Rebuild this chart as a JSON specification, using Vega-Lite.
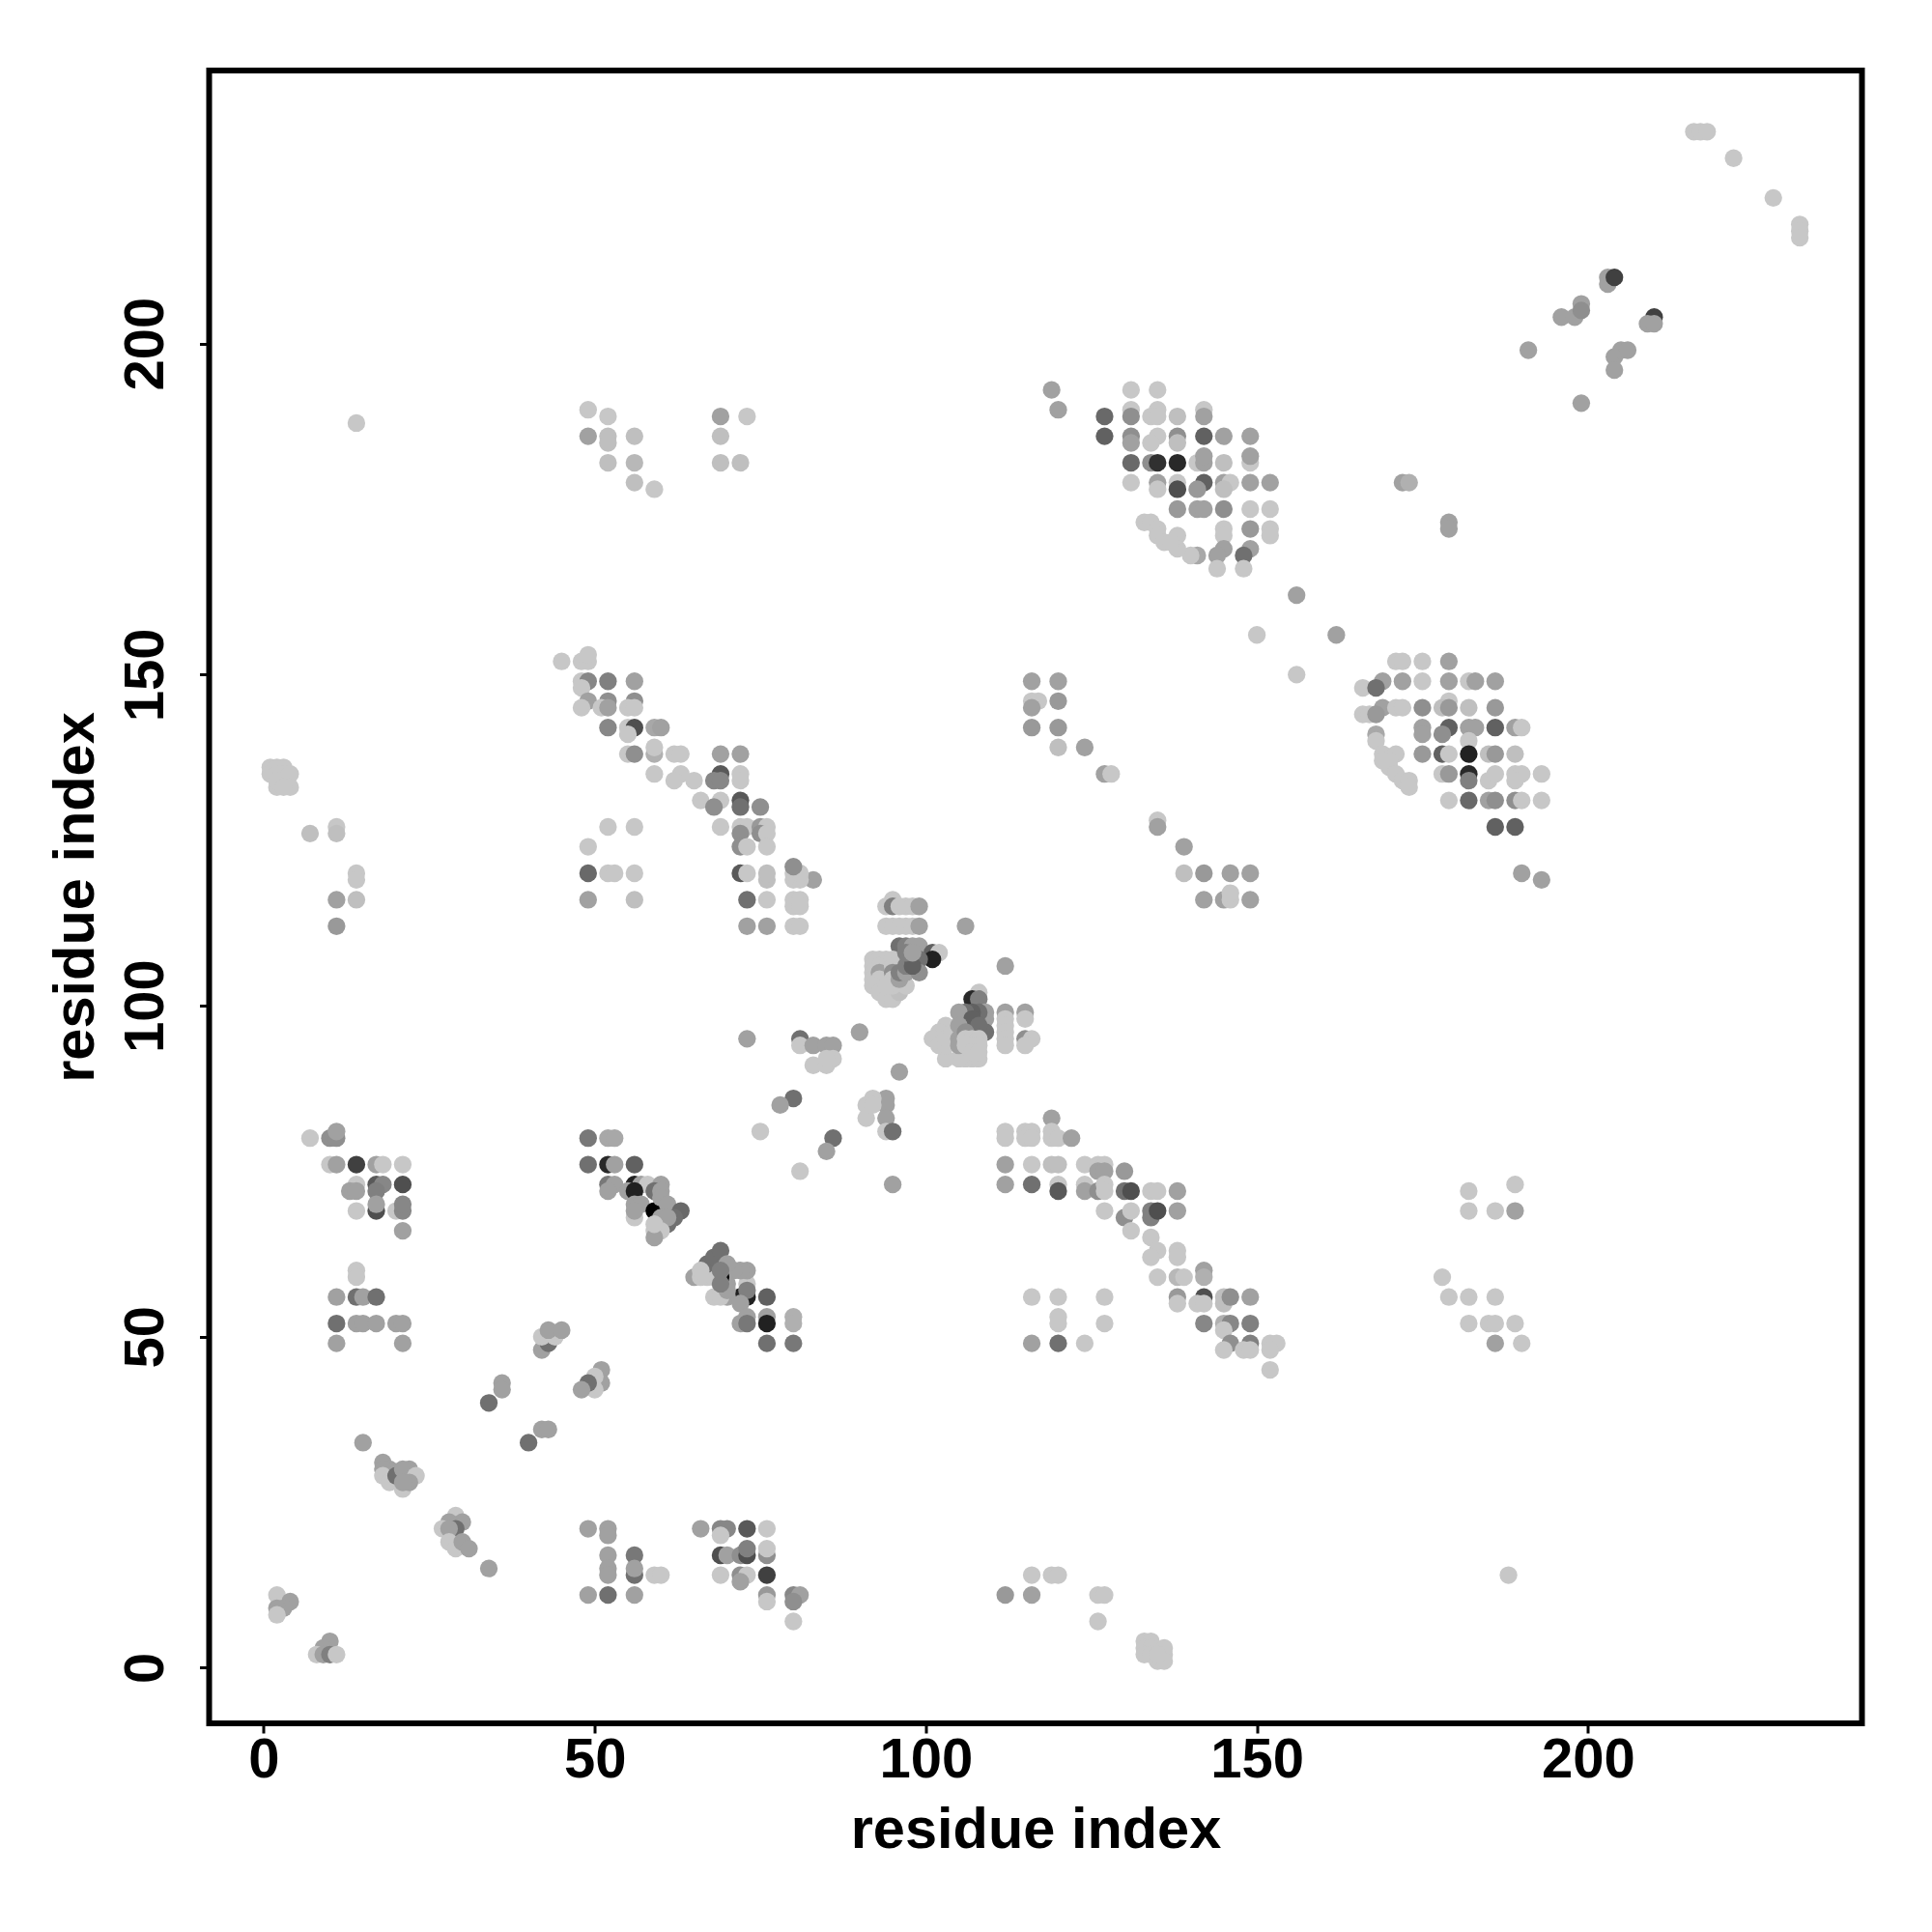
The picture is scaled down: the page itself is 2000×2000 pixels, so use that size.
{"$schema":"https://vega.github.io/schema/vega-lite/v6.json","autosize":"none","width":1711,"height":1711,"padding":{"left":216.5,"top":73,"right":72.5,"bottom":216},"background":"white","config":{"view":{"stroke":"black","strokeWidth":6},"font":"Liberation Sans"},
"data":{"values":[
{"x":11,"y":56,"w":37},{"x":14,"y":60,"w":22},{"x":14,"y":59,"w":22},{"x":14,"y":56,"w":56},{"x":15,"y":56,"w":37},{"x":17,"y":56,"w":56},{"x":11,"y":52,"w":56},{"x":14,"y":52,"w":37},{"x":15,"y":52,"w":37},{"x":17,"y":52,"w":37},{"x":20,"y":52,"w":37},{"x":21,"y":52,"w":37},{"x":11,"y":49,"w":37},{"x":21,"y":49,"w":37},
{"x":42,"y":48,"w":37},{"x":43,"y":49,"w":56},{"x":42,"y":50,"w":22},{"x":44,"y":50,"w":22},{"x":43,"y":51,"w":37},{"x":45,"y":51,"w":37},{"x":36,"y":43,"w":37},{"x":36,"y":42,"w":37},{"x":34,"y":40,"w":56},{"x":51,"y":45,"w":37},{"x":51,"y":43,"w":37},{"x":50,"y":44,"w":22},{"x":50,"y":42,"w":22},{"x":49,"y":43,"w":56},{"x":48,"y":42,"w":37},{"x":42,"y":36,"w":37},{"x":43,"y":36,"w":37},{"x":40,"y":34,"w":56},{"x":15,"y":34,"w":37},
{"x":18,"y":31,"w":37},{"x":19,"y":30,"w":37},{"x":18,"y":30,"w":37},{"x":18,"y":29,"w":22},{"x":19,"y":28,"w":22},{"x":21,"y":27,"w":22},{"x":20,"y":29,"w":56},{"x":22,"y":30,"w":37},{"x":21,"y":30,"w":37},{"x":23,"y":29,"w":22},{"x":22,"y":28,"w":37},{"x":21,"y":28,"w":37},
{"x":29,"y":23,"w":22},{"x":30,"y":22,"w":37},{"x":28,"y":22,"w":37},{"x":27,"y":21,"w":22},{"x":29,"y":21,"w":56},{"x":28,"y":21,"w":37},{"x":28,"y":19,"w":22},{"x":29,"y":18,"w":22},{"x":30,"y":19,"w":37},{"x":31,"y":18,"w":37},{"x":34,"y":15,"w":37},
{"x":49,"y":21,"w":37},{"x":52,"y":21,"w":37},{"x":52,"y":20,"w":37},{"x":52,"y":17,"w":37},{"x":52,"y":15,"w":37},{"x":52,"y":14,"w":37},{"x":56,"y":17,"w":53},{"x":56,"y":14,"w":56},{"x":56,"y":15,"w":37},{"x":59,"y":14,"w":22},{"x":60,"y":14,"w":22},{"x":49,"y":11,"w":37},{"x":52,"y":11,"w":56},{"x":56,"y":11,"w":37},
{"x":2,"y":11,"w":22},{"x":4,"y":10,"w":37},{"x":3,"y":9,"w":37},{"x":2,"y":9,"w":37},{"x":2,"y":8,"w":22},{"x":10,"y":4,"w":37},{"x":9,"y":3,"w":37},{"x":8,"y":2,"w":22},{"x":9,"y":2,"w":37},{"x":10,"y":2,"w":50},{"x":11,"y":2,"w":22},
{"x":76,"y":56,"w":62},{"x":73,"y":56,"w":87},{"x":72,"y":56,"w":87},{"x":73,"y":58,"w":22},{"x":73,"y":60,"w":37},{"x":72,"y":60,"w":37},{"x":71,"y":60,"w":37},{"x":70,"y":56,"w":37},{"x":68,"y":56,"w":22},{"x":69,"y":56,"w":22},{"x":73,"y":57,"w":50},{"x":70,"y":58,"w":37},{"x":70,"y":57,"w":37},{"x":69,"y":59,"w":100},{"x":65,"y":59,"w":37},{"x":66,"y":59,"w":22},{"x":67,"y":59,"w":22},{"x":68,"y":59,"w":22},{"x":67,"y":61,"w":56},{"x":68,"y":62,"w":56},{"x":69,"y":63,"w":56},{"x":70,"y":61,"w":37},{"x":66,"y":60,"w":22},{"x":69,"y":60,"w":50},{"x":69,"y":58,"w":50},{"x":72,"y":55,"w":37},
{"x":80,"y":53,"w":31},{"x":76,"y":53,"w":37},{"x":73,"y":53,"w":37},{"x":72,"y":52,"w":37},{"x":73,"y":52,"w":53},{"x":76,"y":52,"w":87},{"x":80,"y":52,"w":31},{"x":76,"y":49,"w":56},{"x":80,"y":49,"w":53},
{"x":116,"y":56,"w":22},{"x":120,"y":56,"w":22},{"x":127,"y":56,"w":22},{"x":120,"y":53,"w":22},{"x":120,"y":52,"w":22},{"x":127,"y":52,"w":22},{"x":116,"y":49,"w":37},{"x":120,"y":49,"w":56},{"x":124,"y":49,"w":22},
{"x":66,"y":21,"w":37},{"x":69,"y":21,"w":47},{"x":70,"y":21,"w":47},{"x":73,"y":21,"w":65},{"x":76,"y":21,"w":22},{"x":69,"y":20,"w":22},{"x":69,"y":17,"w":69},{"x":70,"y":17,"w":37},{"x":72,"y":17,"w":44},{"x":73,"y":17,"w":69},{"x":76,"y":17,"w":44},{"x":73,"y":18,"w":50},{"x":76,"y":18,"w":22},{"x":69,"y":14,"w":22},{"x":72,"y":14,"w":44},{"x":73,"y":14,"w":22},{"x":76,"y":14,"w":75},{"x":72,"y":13,"w":37},{"x":76,"y":11,"w":40},{"x":80,"y":11,"w":47},{"x":81,"y":11,"w":37},{"x":76,"y":10,"w":22},{"x":80,"y":10,"w":44},{"x":80,"y":7,"w":22},
{"x":116,"y":14,"w":22},{"x":119,"y":14,"w":22},{"x":120,"y":14,"w":22},{"x":112,"y":11,"w":40},{"x":116,"y":11,"w":37},{"x":126,"y":11,"w":22},{"x":127,"y":11,"w":22},{"x":126,"y":7,"w":22},{"x":188,"y":14,"w":22},
{"x":133,"y":4,"w":22},{"x":134,"y":4,"w":22},{"x":133,"y":3,"w":22},{"x":134,"y":3,"w":22},{"x":133,"y":2,"w":22},{"x":134,"y":2,"w":22},{"x":136,"y":3,"w":22},{"x":136,"y":2,"w":22},{"x":135,"y":1,"w":22},{"x":136,"y":1,"w":22},{"x":135,"y":2,"w":22},
{"x":73,"y":116,"w":56},{"x":76,"y":116,"w":22},{"x":80,"y":116,"w":22},{"x":81,"y":116,"w":22},{"x":80,"y":115,"w":22},{"x":81,"y":115,"w":22},{"x":73,"y":112,"w":37},{"x":76,"y":112,"w":37},{"x":80,"y":112,"w":22},{"x":81,"y":112,"w":22},{"x":83,"y":119,"w":37},{"x":80,"y":119,"w":22},{"x":81,"y":119,"w":22},{"x":80,"y":120,"w":22},{"x":81,"y":120,"w":22},{"x":76,"y":119,"w":25},{"x":76,"y":120,"w":25},
{"x":95,"y":116,"w":22},{"x":94,"y":115,"w":22},{"x":95,"y":115,"w":50},{"x":96,"y":115,"w":22},{"x":97,"y":115,"w":22},{"x":98,"y":115,"w":22},{"x":99,"y":115,"w":37},{"x":94,"y":112,"w":22},{"x":95,"y":112,"w":22},{"x":96,"y":112,"w":22},{"x":97,"y":112,"w":22},{"x":98,"y":112,"w":22},{"x":99,"y":112,"w":37},{"x":106,"y":112,"w":37},{"x":96,"y":109,"w":56},{"x":97,"y":109,"w":50},{"x":98,"y":109,"w":37},{"x":99,"y":109,"w":37},{"x":101,"y":108,"w":62},{"x":102,"y":108,"w":22},{"x":101,"y":107,"w":87},
{"x":92,"y":107,"w":22},{"x":92,"y":106,"w":22},{"x":92,"y":105,"w":22},{"x":92,"y":104,"w":22},{"x":94,"y":107,"w":22},{"x":94,"y":106,"w":22},{"x":94,"y":105,"w":31},{"x":94,"y":104,"w":22},{"x":93,"y":107,"w":22},{"x":93,"y":106,"w":22},{"x":93,"y":105,"w":37},{"x":93,"y":104,"w":22},{"x":95,"y":107,"w":22},{"x":95,"y":106,"w":22},{"x":95,"y":105,"w":44},{"x":95,"y":104,"w":22},{"x":92,"y":103,"w":22},{"x":93,"y":102,"w":22},{"x":94,"y":101,"w":22},{"x":95,"y":101,"w":22},{"x":96,"y":102,"w":25},{"x":97,"y":103,"w":22},{"x":95,"y":103,"w":22},{"x":94,"y":103,"w":22},{"x":96,"y":104,"w":37},{"x":96,"y":105,"w":50},{"x":97,"y":105,"w":37},{"x":97,"y":106,"w":50},{"x":98,"y":107,"w":56},{"x":99,"y":107,"w":56},{"x":99,"y":105,"w":44},{"x":98,"y":106,"w":62},{"x":97,"y":108,"w":50},{"x":98,"y":108,"w":37},
{"x":108,"y":102,"w":22},{"x":107,"y":101,"w":84},{"x":108,"y":101,"w":50},{"x":109,"y":99,"w":37},{"x":109,"y":98,"w":37},{"x":109,"y":96,"w":56},{"x":108,"y":99,"w":56},{"x":107,"y":99,"w":62},{"x":106,"y":99,"w":56},{"x":105,"y":99,"w":37},{"x":107,"y":98,"w":62},{"x":108,"y":97,"w":56},{"x":112,"y":99,"w":37},{"x":112,"y":98,"w":22},{"x":112,"y":97,"w":22},{"x":112,"y":96,"w":22},{"x":112,"y":95,"w":22},{"x":112,"y":94,"w":22},{"x":115,"y":99,"w":37},{"x":115,"y":98,"w":22},{"x":115,"y":95,"w":44},{"x":116,"y":95,"w":22},{"x":115,"y":94,"w":22},
{"x":107,"y":92,"w":22},{"x":108,"y":92,"w":22},{"x":106,"y":92,"w":22},{"x":105,"y":92,"w":22},{"x":103,"y":92,"w":22},{"x":103,"y":97,"w":22},{"x":102,"y":96,"w":22},{"x":101,"y":95,"w":22},{"x":102,"y":94,"w":22},{"x":103,"y":94,"w":22},{"x":103,"y":95,"w":22},{"x":104,"y":96,"w":22},{"x":105,"y":97,"w":37},{"x":105,"y":95,"w":37},{"x":105,"y":94,"w":37},{"x":106,"y":96,"w":44},{"x":106,"y":95,"w":22},{"x":107,"y":95,"w":22},{"x":108,"y":95,"w":22},{"x":107,"y":94,"w":22},{"x":108,"y":94,"w":22},{"x":106,"y":94,"w":22},{"x":107,"y":93,"w":22},{"x":108,"y":93,"w":22},
{"x":73,"y":95,"w":37},{"x":81,"y":95,"w":56},{"x":81,"y":94,"w":22},{"x":83,"y":94,"w":37},{"x":85,"y":94,"w":37},{"x":86,"y":94,"w":37},{"x":86,"y":92,"w":22},{"x":83,"y":91,"w":22},{"x":85,"y":91,"w":22},{"x":85,"y":92,"w":22},{"x":90,"y":96,"w":37},{"x":112,"y":106,"w":37},{"x":96,"y":90,"w":37},{"x":80,"y":86,"w":56},{"x":78,"y":85,"w":37},{"x":75,"y":81,"w":22},{"x":86,"y":80,"w":56},{"x":85,"y":78,"w":37},{"x":81,"y":75,"w":22},{"x":94,"y":86,"w":37},{"x":94,"y":85,"w":37},{"x":92,"y":86,"w":22},{"x":91,"y":85,"w":22},{"x":91,"y":83,"w":22},{"x":92,"y":85,"w":22},{"x":94,"y":83,"w":37},{"x":94,"y":81,"w":22},{"x":95,"y":81,"w":56},{"x":95,"y":73,"w":37},
{"x":119,"y":83,"w":37},{"x":112,"y":81,"w":22},{"x":112,"y":80,"w":22},{"x":115,"y":81,"w":22},{"x":116,"y":81,"w":22},{"x":115,"y":80,"w":22},{"x":116,"y":80,"w":22},{"x":119,"y":81,"w":22},{"x":119,"y":80,"w":22},{"x":120,"y":80,"w":22},{"x":122,"y":80,"w":37},
{"x":112,"y":76,"w":37},{"x":116,"y":76,"w":22},{"x":119,"y":76,"w":25},{"x":120,"y":76,"w":25},{"x":124,"y":76,"w":22},{"x":126,"y":76,"w":22},{"x":127,"y":76,"w":22},{"x":126,"y":75,"w":37},{"x":127,"y":75,"w":37},{"x":130,"y":75,"w":40},
{"x":112,"y":73,"w":37},{"x":116,"y":73,"w":56},{"x":120,"y":73,"w":22},{"x":120,"y":72,"w":65},{"x":124,"y":73,"w":22},{"x":124,"y":72,"w":37},{"x":126,"y":72,"w":44},{"x":127,"y":73,"w":22},{"x":127,"y":72,"w":22},{"x":130,"y":72,"w":56},{"x":131,"y":72,"w":69},{"x":134,"y":72,"w":22},{"x":135,"y":72,"w":22},{"x":138,"y":72,"w":37},
{"x":127,"y":69,"w":22},{"x":130,"y":68,"w":44},{"x":131,"y":69,"w":22},{"x":134,"y":69,"w":50},{"x":134,"y":68,"w":50},{"x":135,"y":69,"w":69},{"x":138,"y":69,"w":37},{"x":131,"y":66,"w":22},{"x":134,"y":65,"w":22},{"x":135,"y":63,"w":22},{"x":134,"y":62,"w":22},{"x":138,"y":63,"w":22},{"x":138,"y":62,"w":22},{"x":135,"y":59,"w":22},{"x":138,"y":59,"w":28},{"x":139,"y":59,"w":22},{"x":142,"y":60,"w":37},{"x":142,"y":59,"w":31},
{"x":138,"y":56,"w":40},{"x":138,"y":55,"w":22},{"x":142,"y":56,"w":69},{"x":141,"y":55,"w":22},{"x":142,"y":55,"w":22},{"x":145,"y":56,"w":25},{"x":145,"y":55,"w":25},{"x":146,"y":56,"w":44},{"x":149,"y":56,"w":37},{"x":142,"y":52,"w":47},{"x":145,"y":52,"w":31},{"x":146,"y":52,"w":47},{"x":149,"y":52,"w":50},{"x":145,"y":51,"w":22},{"x":146,"y":49,"w":44},{"x":149,"y":49,"w":50},{"x":145,"y":48,"w":22},{"x":148,"y":48,"w":22},{"x":149,"y":48,"w":22},{"x":152,"y":49,"w":22},{"x":153,"y":49,"w":22},{"x":152,"y":48,"w":22},{"x":152,"y":45,"w":22},
{"x":7,"y":80,"w":22},{"x":10,"y":80,"w":44},{"x":11,"y":80,"w":44},{"x":11,"y":81,"w":37},{"x":10,"y":76,"w":22},{"x":11,"y":76,"w":37},{"x":14,"y":76,"w":75},{"x":17,"y":76,"w":37},{"x":18,"y":76,"w":22},{"x":21,"y":76,"w":22},{"x":14,"y":73,"w":22},{"x":17,"y":73,"w":65},{"x":18,"y":73,"w":47},{"x":21,"y":73,"w":69},{"x":13,"y":72,"w":37},{"x":14,"y":72,"w":37},{"x":17,"y":72,"w":50},{"x":14,"y":69,"w":22},{"x":17,"y":69,"w":69},{"x":17,"y":70,"w":37},{"x":20,"y":69,"w":22},{"x":21,"y":69,"w":47},{"x":21,"y":70,"w":47},{"x":21,"y":66,"w":37},
{"x":49,"y":80,"w":53},{"x":52,"y":80,"w":34},{"x":53,"y":80,"w":34},{"x":49,"y":76,"w":56},{"x":52,"y":76,"w":84},{"x":53,"y":76,"w":37},{"x":56,"y":76,"w":62},{"x":52,"y":73,"w":53},{"x":53,"y":73,"w":37},{"x":56,"y":73,"w":87},{"x":57,"y":73,"w":37},{"x":58,"y":73,"w":22},{"x":60,"y":73,"w":37},{"x":52,"y":72,"w":37},{"x":55,"y":72,"w":37},{"x":56,"y":72,"w":87},{"x":59,"y":72,"w":56},{"x":60,"y":72,"w":37},{"x":56,"y":70,"w":37},{"x":57,"y":70,"w":37},{"x":56,"y":68,"w":22},{"x":56,"y":69,"w":37},{"x":59,"y":69,"w":100},{"x":60,"y":71,"w":37},{"x":61,"y":70,"w":37},{"x":63,"y":69,"w":59},{"x":62,"y":68,"w":56},{"x":61,"y":67,"w":56},{"x":60,"y":68,"w":37},{"x":61,"y":68,"w":37},{"x":59,"y":66,"w":22},{"x":60,"y":66,"w":22},{"x":59,"y":65,"w":37},{"x":59,"y":67,"w":22},
{"x":45,"y":152,"w":22},{"x":48,"y":152,"w":22},{"x":49,"y":152,"w":22},{"x":49,"y":153,"w":22},{"x":48,"y":149,"w":22},{"x":49,"y":149,"w":47},{"x":52,"y":149,"w":50},{"x":56,"y":149,"w":37},{"x":48,"y":148,"w":22},{"x":49,"y":146,"w":37},{"x":52,"y":146,"w":44},{"x":56,"y":146,"w":44},{"x":48,"y":145,"w":22},{"x":51,"y":145,"w":22},{"x":52,"y":145,"w":37},{"x":55,"y":145,"w":22},{"x":56,"y":145,"w":22},{"x":52,"y":142,"w":47},{"x":55,"y":142,"w":22},{"x":56,"y":142,"w":69},{"x":59,"y":142,"w":34},{"x":60,"y":142,"w":37},{"x":55,"y":141,"w":22},
{"x":55,"y":138,"w":22},{"x":56,"y":138,"w":44},{"x":59,"y":138,"w":31},{"x":62,"y":138,"w":22},{"x":63,"y":138,"w":22},{"x":69,"y":138,"w":37},{"x":72,"y":138,"w":37},{"x":59,"y":139,"w":22},{"x":59,"y":135,"w":22},{"x":63,"y":135,"w":22},{"x":69,"y":135,"w":65},{"x":72,"y":135,"w":22},{"x":62,"y":134,"w":22},{"x":65,"y":134,"w":22},{"x":68,"y":134,"w":47},{"x":69,"y":134,"w":47},{"x":72,"y":134,"w":22},{"x":66,"y":131,"w":22},{"x":69,"y":131,"w":22},{"x":72,"y":131,"w":65},{"x":68,"y":130,"w":44},{"x":72,"y":130,"w":56},{"x":75,"y":130,"w":44},
{"x":69,"y":127,"w":22},{"x":72,"y":127,"w":22},{"x":73,"y":127,"w":22},{"x":75,"y":127,"w":40},{"x":76,"y":127,"w":22},{"x":72,"y":126,"w":44},{"x":75,"y":126,"w":44},{"x":76,"y":126,"w":22},{"x":49,"y":124,"w":22},{"x":72,"y":124,"w":44},{"x":73,"y":124,"w":22},{"x":76,"y":124,"w":22},{"x":52,"y":127,"w":22},{"x":56,"y":127,"w":22},{"x":80,"y":121,"w":44},{"x":49,"y":120,"w":59},{"x":52,"y":120,"w":22},{"x":53,"y":120,"w":22},{"x":56,"y":120,"w":22},{"x":72,"y":120,"w":65},{"x":73,"y":120,"w":22},{"x":49,"y":116,"w":37},{"x":56,"y":116,"w":25},
{"x":171,"y":152,"w":22},{"x":172,"y":152,"w":22},{"x":175,"y":152,"w":22},{"x":179,"y":152,"w":37},{"x":169,"y":149,"w":37},{"x":172,"y":149,"w":37},{"x":175,"y":149,"w":22},{"x":179,"y":149,"w":37},{"x":182,"y":149,"w":22},{"x":183,"y":149,"w":37},{"x":186,"y":149,"w":37},{"x":166,"y":148,"w":22},{"x":168,"y":148,"w":56},{"x":179,"y":146,"w":22},{"x":169,"y":145,"w":37},{"x":171,"y":145,"w":22},{"x":172,"y":145,"w":22},{"x":175,"y":145,"w":44},{"x":178,"y":145,"w":25},{"x":179,"y":145,"w":40},{"x":182,"y":145,"w":25},{"x":186,"y":145,"w":40},{"x":166,"y":144,"w":22},{"x":167,"y":144,"w":22},{"x":168,"y":144,"w":40},
{"x":175,"y":142,"w":37},{"x":179,"y":142,"w":62},{"x":182,"y":142,"w":37},{"x":183,"y":142,"w":37},{"x":186,"y":142,"w":62},{"x":189,"y":142,"w":37},{"x":190,"y":142,"w":22},{"x":168,"y":141,"w":34},{"x":175,"y":141,"w":37},{"x":178,"y":141,"w":44},{"x":182,"y":140,"w":22},{"x":168,"y":140,"w":22},{"x":169,"y":138,"w":22},{"x":171,"y":138,"w":22},{"x":175,"y":138,"w":40},{"x":178,"y":138,"w":62},{"x":179,"y":138,"w":22},{"x":182,"y":138,"w":87},{"x":185,"y":138,"w":25},{"x":186,"y":138,"w":40},{"x":189,"y":138,"w":25},
{"x":178,"y":135,"w":22},{"x":179,"y":135,"w":40},{"x":182,"y":135,"w":84},{"x":182,"y":134,"w":50},{"x":185,"y":134,"w":22},{"x":186,"y":135,"w":22},{"x":189,"y":135,"w":22},{"x":190,"y":135,"w":22},{"x":189,"y":134,"w":22},{"x":193,"y":135,"w":22},{"x":170,"y":137,"w":22},{"x":170,"y":136,"w":22},{"x":169,"y":137,"w":22},{"x":171,"y":135,"w":22},{"x":172,"y":134,"w":22},{"x":173,"y":134,"w":22},{"x":173,"y":133,"w":22},{"x":179,"y":131,"w":22},{"x":182,"y":131,"w":59},{"x":185,"y":131,"w":37},{"x":186,"y":131,"w":44},{"x":189,"y":131,"w":44},{"x":190,"y":131,"w":22},{"x":193,"y":131,"w":22},{"x":186,"y":127,"w":62},{"x":189,"y":127,"w":62},{"x":190,"y":120,"w":37},{"x":193,"y":119,"w":37},
{"x":131,"y":193,"w":22},{"x":135,"y":193,"w":22},{"x":131,"y":190,"w":22},{"x":135,"y":190,"w":22},{"x":142,"y":190,"w":22},{"x":127,"y":189,"w":59},{"x":131,"y":189,"w":44},{"x":134,"y":189,"w":22},{"x":135,"y":189,"w":22},{"x":138,"y":189,"w":25},{"x":142,"y":189,"w":37},{"x":127,"y":186,"w":62},{"x":131,"y":186,"w":44},{"x":135,"y":186,"w":22},{"x":138,"y":186,"w":44},{"x":142,"y":186,"w":62},{"x":145,"y":186,"w":37},{"x":149,"y":186,"w":37},{"x":131,"y":185,"w":37},{"x":134,"y":185,"w":22},{"x":138,"y":185,"w":25},
{"x":131,"y":182,"w":59},{"x":134,"y":182,"w":44},{"x":135,"y":182,"w":81},{"x":138,"y":182,"w":84},{"x":141,"y":182,"w":22},{"x":142,"y":182,"w":37},{"x":145,"y":182,"w":25},{"x":149,"y":182,"w":22},{"x":142,"y":183,"w":37},{"x":149,"y":183,"w":37},{"x":131,"y":179,"w":22},{"x":135,"y":179,"w":37},{"x":138,"y":179,"w":22},{"x":142,"y":179,"w":62},{"x":145,"y":179,"w":37},{"x":146,"y":179,"w":22},{"x":149,"y":179,"w":37},{"x":152,"y":179,"w":37},{"x":135,"y":178,"w":22},{"x":138,"y":178,"w":69},{"x":141,"y":178,"w":40},{"x":145,"y":178,"w":25},
{"x":138,"y":175,"w":40},{"x":141,"y":175,"w":37},{"x":142,"y":175,"w":37},{"x":145,"y":175,"w":44},{"x":149,"y":175,"w":22},{"x":152,"y":175,"w":22},{"x":145,"y":172,"w":22},{"x":149,"y":172,"w":40},{"x":152,"y":172,"w":22},{"x":145,"y":171,"w":22},{"x":152,"y":171,"w":22},{"x":145,"y":169,"w":37},{"x":149,"y":169,"w":37},{"x":144,"y":168,"w":37},{"x":141,"y":168,"w":34},{"x":140,"y":168,"w":22},{"x":148,"y":168,"w":56},{"x":144,"y":166,"w":22},{"x":148,"y":166,"w":22},{"x":133,"y":173,"w":22},{"x":134,"y":173,"w":22},{"x":135,"y":172,"w":22},{"x":135,"y":171,"w":22},{"x":136,"y":170,"w":22},{"x":138,"y":171,"w":22},{"x":138,"y":169,"w":22},{"x":137,"y":170,"w":22},{"x":156,"y":162,"w":37},
{"x":116,"y":149,"w":37},{"x":120,"y":149,"w":37},{"x":116,"y":146,"w":22},{"x":117,"y":146,"w":22},{"x":120,"y":146,"w":40},{"x":116,"y":145,"w":37},{"x":116,"y":142,"w":40},{"x":120,"y":142,"w":40},{"x":120,"y":139,"w":25},{"x":124,"y":139,"w":37},{"x":127,"y":135,"w":37},{"x":128,"y":135,"w":22},{"x":135,"y":128,"w":22},{"x":135,"y":127,"w":37},{"x":139,"y":124,"w":37},{"x":139,"y":120,"w":25},{"x":142,"y":120,"w":40},{"x":146,"y":120,"w":37},{"x":149,"y":120,"w":37},{"x":142,"y":116,"w":37},{"x":145,"y":116,"w":37},{"x":146,"y":116,"w":22},{"x":149,"y":116,"w":37},{"x":146,"y":117,"w":22},
{"x":49,"y":190,"w":22},{"x":52,"y":189,"w":22},{"x":49,"y":186,"w":37},{"x":52,"y":186,"w":25},{"x":52,"y":185,"w":25},{"x":56,"y":186,"w":25},{"x":52,"y":182,"w":25},{"x":56,"y":182,"w":28},{"x":56,"y":179,"w":25},{"x":59,"y":178,"w":22},{"x":69,"y":189,"w":37},{"x":73,"y":189,"w":22},{"x":69,"y":186,"w":25},{"x":69,"y":182,"w":25},{"x":72,"y":182,"w":25},
{"x":1,"y":136,"w":22},{"x":1,"y":135,"w":22},{"x":2,"y":136,"w":22},{"x":3,"y":136,"w":22},{"x":2,"y":133,"w":22},{"x":3,"y":135,"w":22},{"x":2,"y":135,"w":22},{"x":2,"y":134,"w":22},{"x":4,"y":135,"w":22},{"x":4,"y":133,"w":22},{"x":3,"y":133,"w":22},{"x":7,"y":126,"w":25},{"x":11,"y":127,"w":22},{"x":11,"y":126,"w":25},{"x":14,"y":120,"w":22},{"x":14,"y":119,"w":22},{"x":11,"y":116,"w":37},{"x":14,"y":116,"w":25},{"x":11,"y":112,"w":40},{"x":14,"y":188,"w":22},
{"x":216,"y":232,"w":22},{"x":217,"y":232,"w":22},{"x":218,"y":232,"w":22},{"x":222,"y":228,"w":22},{"x":228,"y":222,"w":22},{"x":232,"y":218,"w":22},{"x":232,"y":217,"w":22},{"x":232,"y":216,"w":22},
{"x":203,"y":210,"w":37},{"x":203,"y":209,"w":37},{"x":204,"y":210,"w":75},{"x":210,"y":204,"w":75},{"x":209,"y":203,"w":37},{"x":210,"y":203,"w":37},{"x":196,"y":204,"w":37},{"x":198,"y":204,"w":37},{"x":199,"y":206,"w":37},{"x":199,"y":205,"w":44},{"x":191,"y":199,"w":37},{"x":204,"y":198,"w":37},{"x":204,"y":196,"w":37},{"x":205,"y":199,"w":37},{"x":206,"y":199,"w":37},{"x":199,"y":191,"w":37},{"x":119,"y":193,"w":37},{"x":120,"y":190,"w":37},
{"x":162,"y":156,"w":37},{"x":150,"y":156,"w":22},{"x":156,"y":150,"w":22},{"x":172,"y":179,"w":37},{"x":173,"y":179,"w":31},{"x":179,"y":173,"w":37},{"x":179,"y":172,"w":37},
{"x":182,"y":72,"w":22},{"x":182,"y":69,"w":22},{"x":186,"y":69,"w":22},{"x":189,"y":73,"w":22},{"x":189,"y":69,"w":37},{"x":178,"y":59,"w":22},{"x":179,"y":56,"w":22},{"x":182,"y":56,"w":22},{"x":186,"y":56,"w":22},{"x":182,"y":52,"w":22},{"x":185,"y":52,"w":22},{"x":186,"y":52,"w":22},{"x":189,"y":52,"w":22},{"x":186,"y":49,"w":37},{"x":190,"y":49,"w":22}
]},
"mark":{"type":"point","filled":true,"opacity":1,"size":335,"shape":"circle"},
"encoding":{
"x":{"field":"x","type":"quantitative","scale":{"domain":[-8.24,241.39],"nice":false,"zero":false},"axis":{"title":"residue index","values":[0,50,100,150,200],"grid":false,"domain":false,"tickColor":"black","tickWidth":3,"tickSize":10,"labelFont":"Liberation Sans","labelFontWeight":"bold","labelFontSize":58,"labelColor":"black","labelPadding":-1,"labelFlush":false,"labelOverlap":false,"titleFont":"Liberation Sans","titleFontWeight":"bold","titleFontSize":59.5,"titleColor":"black","titlePadding":14}},
"y":{"field":"y","type":"quantitative","scale":{"domain":[-8.39,241.24],"nice":false,"zero":false},"axis":{"title":"residue index","values":[0,50,100,150,200],"grid":false,"domain":false,"tickColor":"black","tickWidth":3,"tickSize":10,"labelFont":"Liberation Sans","labelFontWeight":"bold","labelFontSize":58,"labelColor":"black","labelAngle":-90,"labelAlign":"center","labelBaseline":"bottom","labelPadding":26,"labelOverlap":false,"labelFlush":false,"titleFont":"Liberation Sans","titleFontWeight":"bold","titleFontSize":59.5,"titleColor":"black","titlePadding":14}},
"color":{"field":"w","type":"quantitative","legend":null,"scale":{"domain":[0,100],"range":["#ffffff","#000000"],"interpolate":"rgb"}},
"order":[{"field":"y","type":"quantitative"},{"field":"x","type":"quantitative"}]
}}
